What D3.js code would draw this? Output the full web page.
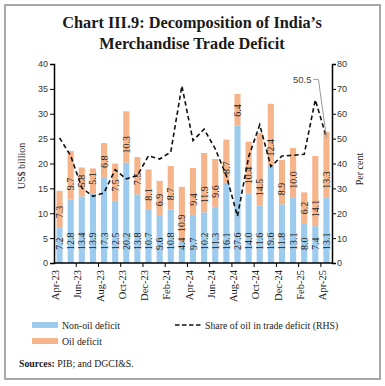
<!DOCTYPE html>
<html>
<head>
<meta charset="utf-8">
<script src="https://d3js.org/d3.v7.min.js"></script>
<style>
  body { margin: 0; background: #fff; }
</style>
</head>
<body>
<div id="chart"></div>
<script>
// data
var months = ["Apr-23","May-23","Jun-23","Jul-23","Aug-23","Sep-23","Oct-23","Nov-23","Dec-23",
  "Jan-24","Feb-24","Mar-24","Apr-24","May-24","Jun-24","Jul-24","Aug-24","Sep-24","Oct-24",
  "Nov-24","Dec-24","Jan-25","Feb-25","Mar-25","Apr-25"];
var nonOil = [7.2,12.8,13.4,13.9,17.3,12.5,20.2,13.8,10.7,9.6,10.8,4.4,9.7,10.2,11.3,16.1,27.6,14.0,11.6,19.6,11.8,13.1,8.0,7.4,13.1];
var oil = [7.3,9.7,5.8,5.1,6.8,7.5,10.3,7.5,8.1,6.9,8.7,10.9,9.4,11.9,9.6,8.7,6.4,10.4,14.5,12.4,8.9,10.0,6.2,14.1,13.3];
var share = [50.3,43.1,30.2,26.8,28.2,37.5,33.8,35.2,43.1,41.8,44.6,71.2,49.2,53.8,45.9,35.1,18.8,42.6,55.6,38.8,43.0,43.3,43.7,65.6,50.5];
var leftTicks = [0,5,10,15,20,25,30,35,40];
var rightTicks = [0,10,20,30,40,50,60,70,80];
var xLabels = ["Apr-23","Jun-23","Aug-23","Oct-23","Dec-23","Feb-24","Apr-24","Jun-24","Aug-24","Oct-24","Dec-24","Feb-25","Apr-25"];

var W = 385, H = 386;
var margin = {top: 64, right: 53, bottom: 123, left: 54},
    width = W - margin.left - margin.right,
    height = H - margin.top - margin.bottom;

var serif = "'Liberation Serif', 'DejaVu Serif', serif";
var sans = "'Liberation Sans', Arial, sans-serif";
var blue = "#9dcbee", orange = "#f6b48b";

var root = d3.select("#chart")
  .append("svg")
    .attr("width", W)
    .attr("height", H);

// frame
root.append("rect")
  .attr("x", 5).attr("y", 5)
  .attr("width", 375).attr("height", 374)
  .attr("fill", "#fff")
  .attr("stroke", "#a8a8a8")
  .attr("stroke-width", 2);

// title
var title = root.append("text")
  .attr("text-anchor", "middle")
  .style("font-family", serif)
  .style("font-weight", "bold")
  .style("font-size", "16.3px")
  .attr("fill", "#1a1a1a");
title.append("tspan").attr("x", 192).attr("y", 28).text("Chart III.9: Decomposition of India\u2019s");
title.append("tspan").attr("x", 192).attr("y", 49).text("Merchandise Trade Deficit");

var svg = root.append("g")
  .attr("transform", "translate(" + margin.left + "," + margin.top + ")");

// scales
var x = d3.scaleBand()
  .domain(months)
  .range([0, width])
  .paddingInner(0.45)
  .paddingOuter(0.225);
var y = d3.scaleLinear().domain([0, 40]).range([height, 0]);
var y2 = d3.scaleLinear().domain([0, 80]).range([height, 0]);

var data = months.map(function(m, i) {
  return {month: m, nonOil: nonOil[i], oil: oil[i], share: share[i]};
});

// bars
svg.selectAll(".nonoil")
  .data(data)
  .enter()
  .append("rect")
    .attr("x", function(d) { return x(d.month); })
    .attr("width", x.bandwidth())
    .attr("y", function(d) { return y(d.nonOil); })
    .attr("height", function(d) { return height - y(d.nonOil); })
    .attr("fill", blue);

svg.selectAll(".oil")
  .data(data)
  .enter()
  .append("rect")
    .attr("x", function(d) { return x(d.month); })
    .attr("width", x.bandwidth())
    .attr("y", function(d) { return y(d.nonOil + d.oil); })
    .attr("height", function(d) { return y(d.nonOil) - y(d.nonOil + d.oil); })
    .attr("fill", orange);

// bar labels, rotated
svg.selectAll(".lblNon")
  .data(data)
  .enter()
  .append("text")
    .attr("transform", function(d) {
      return "translate(" + (x(d.month) + x.bandwidth() / 2 + 3.5) + "," + (y(0) - 13) + ")rotate(-90)";
    })
    .style("font-family", serif)
    .style("font-size", "10px")
    .attr("fill", "#222")
    .text(function(d) { return d.nonOil.toFixed(1); });

svg.selectAll(".lblOil")
  .data(data)
  .enter()
  .append("text")
    .attr("transform", function(d) {
      return "translate(" + (x(d.month) + x.bandwidth() / 2 + 3.5) + "," + (y(d.nonOil) - 9) + ")rotate(-90)";
    })
    .style("font-family", serif)
    .style("font-size", "10px")
    .attr("fill", "#222")
    .text(function(d) { return d.oil.toFixed(1); });

// share line
var line = d3.line()
  .x(function(d) { return x(d.month) + x.bandwidth() / 2; })
  .y(function(d) { return y2(d.share); });
svg.append("path")
  .datum(data)
  .attr("d", line)
  .attr("fill", "none")
  .attr("stroke", "#111")
  .attr("stroke-width", 1.6)
  .attr("stroke-dasharray", "4.5,3");

// callout for last point
var last = data[data.length - 1];
var lx = x(last.month) + x.bandwidth() / 2, ly = y2(last.share);
svg.append("path")
  .attr("d", "M" + (lx - 13) + "," + (ly - 58) + "H" + (lx - 8) + "L" + lx + "," + ly)
  .attr("fill", "none")
  .attr("stroke", "#999")
  .attr("stroke-width", 1);
svg.append("text")
  .attr("x", lx - 15)
  .attr("y", ly - 54.5)
  .attr("text-anchor", "end")
  .style("font-family", sans)
  .style("font-size", "9.5px")
  .attr("fill", "#444")
  .text(last.share.toFixed(1));

// left axis
var gL = svg.append("g")
  .call(d3.axisLeft(y).tickValues(leftTicks).tickSize(4).tickPadding(2));
gL.select(".domain").attr("stroke-width", 1.5);
gL.selectAll("text").style("font-family", sans).style("font-size", "9px").attr("fill", "#333");

// right axis
var gR = svg.append("g")
  .attr("transform", "translate(" + width + ",0)")
  .call(d3.axisRight(y2).tickValues(rightTicks).tickSize(4).tickPadding(1));
gR.select(".domain").attr("stroke-width", 1.5);
gR.selectAll("text").style("font-family", sans).style("font-size", "9px").attr("fill", "#333");

// bottom axis: labels on every other month, ticks on category boundaries
var gB = svg.append("g")
  .attr("transform", "translate(0," + height + ")")
  .call(d3.axisBottom(x).tickValues(xLabels).tickSize(0).tickPadding(0));
gB.select(".domain").remove();
gB.selectAll("text")
  .attr("transform", "translate(-4,7)rotate(-90)")
  .attr("dy", "0.35em")
  .style("text-anchor", "end")
  .style("font-family", serif)
  .style("font-size", "10.5px")
  .attr("fill", "#222");

var edgeMonths = months.filter(function(m, i) { return i % 2 === 0 && i > 0; });
svg.selectAll(".bTick")
  .data(edgeMonths)
  .enter()
  .append("line")
    .attr("x1", function(m) { return x(m) - x.step() * x.paddingInner() / 2; })
    .attr("x2", function(m) { return x(m) - x.step() * x.paddingInner() / 2; })
    .attr("y1", height)
    .attr("y2", height + 4)
    .attr("stroke", "#000");
svg.append("line")
  .attr("x1", 0).attr("x2", width)
  .attr("y1", height).attr("y2", height)
  .attr("stroke", "#000")
  .attr("stroke-width", 1.5);

// axis titles
root.append("text")
  .attr("transform", "translate(25,166)rotate(-90)")
  .attr("text-anchor", "middle")
  .style("font-family", serif)
  .style("font-size", "10px")
  .attr("fill", "#222")
  .text("US$ billion");
root.append("text")
  .attr("transform", "translate(363,169)rotate(-90)")
  .attr("text-anchor", "middle")
  .style("font-family", serif)
  .style("font-size", "10px")
  .attr("fill", "#222")
  .text("Per cent");

// legend
var leg = root.append("g").style("font-family", serif).style("font-size", "9.8px").attr("fill", "#222");
leg.append("rect").attr("x", 32).attr("y", 322).attr("width", 26).attr("height", 6).attr("fill", blue);
leg.append("text").attr("x", 62).attr("y", 329).text("Non-oil deficit");
leg.append("rect").attr("x", 32).attr("y", 338).attr("width", 26).attr("height", 6).attr("fill", orange);
leg.append("text").attr("x", 62).attr("y", 345).text("Oil deficit");
leg.append("line")
  .attr("x1", 175).attr("x2", 202).attr("y1", 325).attr("y2", 325)
  .attr("stroke", "#111").attr("stroke-width", 1.4).attr("stroke-dasharray", "4.5,2.5");
leg.append("text").attr("x", 205).attr("y", 329).text("Share of oil in trade deficit (RHS)");

// source note
var src = root.append("text")
  .attr("x", 19).attr("y", 367)
  .style("font-family", serif)
  .style("font-size", "9.8px")
  .attr("fill", "#222");
src.append("tspan").style("font-weight", "bold").text("Sources: ");
src.append("tspan").text("PIB; and DGCI&S.");
</script>
</body>
</html>
